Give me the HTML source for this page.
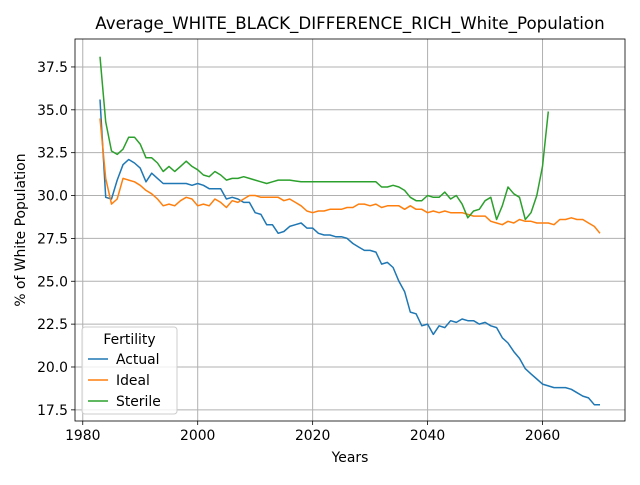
<!DOCTYPE html>
<html><head><meta charset="utf-8"><style>
body{margin:0;background:#fff;font-family:"Liberation Sans","DejaVu Sans",sans-serif}
svg text{font-family:"DejaVu Sans","Liberation Sans",sans-serif;fill:#000}
</style></head><body>
<svg id="chart" width="640" height="480" viewBox="0 0 640 480"></svg>
<script>
const years0 = 1983;
const actual = [35.6,29.9,29.8,30.9,31.8,32.1,31.9,31.6,30.8,31.3,31.0,30.7,30.7,30.7,30.7,30.7,30.6,30.7,30.6,30.4,30.4,30.4,29.8,29.9,29.8,29.6,29.6,29.0,28.9,28.3,28.3,27.8,27.9,28.2,28.3,28.4,28.1,28.1,27.8,27.7,27.7,27.6,27.6,27.5,27.2,27.0,26.8,26.8,26.7,26.0,26.1,25.8,25.0,24.4,23.2,23.1,22.4,22.5,21.9,22.4,22.3,22.7,22.6,22.8,22.7,22.7,22.5,22.6,22.4,22.3,21.7,21.4,20.9,20.5,19.9,19.6,19.3,19.0,18.9,18.8,18.8,18.8,18.7,18.5,18.3,18.2,17.8,17.8];
const ideal = [34.5,31.0,29.5,29.8,31.0,30.9,30.8,30.6,30.3,30.1,29.8,29.4,29.5,29.4,29.7,29.9,29.8,29.4,29.5,29.4,29.8,29.6,29.3,29.7,29.6,29.8,30.0,30.0,29.9,29.9,29.9,29.9,29.7,29.8,29.6,29.4,29.1,29.0,29.1,29.1,29.2,29.2,29.2,29.3,29.3,29.5,29.5,29.4,29.5,29.3,29.4,29.4,29.4,29.2,29.4,29.2,29.2,29.0,29.1,29.0,29.1,29.0,29.0,29.0,28.9,28.8,28.8,28.8,28.5,28.4,28.3,28.5,28.4,28.6,28.5,28.5,28.4,28.4,28.4,28.3,28.6,28.6,28.7,28.6,28.6,28.4,28.2,27.8];
const sterile = [38.1,34.3,32.6,32.4,32.7,33.4,33.4,33.0,32.2,32.2,31.9,31.4,31.7,31.4,31.7,32.0,31.7,31.5,31.2,31.1,31.4,31.2,30.9,31.0,31.0,31.1,31.0,30.9,30.8,30.7,30.8,30.9,30.9,30.9,30.85,30.8,30.8,30.8,30.8,30.8,30.8,30.8,30.8,30.8,30.8,30.8,30.8,30.8,30.8,30.5,30.5,30.6,30.5,30.3,29.9,29.7,29.7,30.0,29.9,29.9,30.2,29.8,30.0,29.5,28.7,29.1,29.2,29.7,29.9,28.6,29.4,30.5,30.1,29.9,28.6,29.0,30.0,31.7,34.9];
const seriesNames = ["Actual","Ideal","Sterile"];
const xTicks = [1980,2000,2020,2040,2060];
const yTicks = [17.5,20.0,22.5,25.0,27.5,30.0,32.5,35.0,37.5];

const NS="http://www.w3.org/2000/svg";
const svg=document.getElementById('chart');
const L=75,R=625,T=39,B=421;
const xmin=1978.65,xmax=2074.35,ymin=16.85,ymax=39.13;
const X=v=>L+(v-xmin)/(xmax-xmin)*(R-L);
const Y=v=>B-(v-ymin)/(ymax-ymin)*(B-T);
function mk(tag,attrs,parent){const e=document.createElementNS(NS,tag);for(const k in attrs)e.setAttribute(k,attrs[k]);(parent||svg).appendChild(e);return e;}

const grid=mk('g',{});


xTicks.forEach(t=>{
  const l=mk('line',{x1:X(t),x2:X(t),y1:T,y2:B,stroke:'#b0b0b0','stroke-width':1},grid);
  
  
  const tk=mk('line',{x1:X(t),x2:X(t),y1:B,y2:B+4,stroke:'#000','stroke-width':0.8});
  
  
  const tx=mk('text',{x:X(t),y:B+19,'text-anchor':'middle','font-size':13.9});
  tx.textContent=t;
  
  
});
yTicks.forEach(t=>{
  const l=mk('line',{x1:L,x2:R,y1:Y(t),y2:Y(t),stroke:'#b0b0b0','stroke-width':1},grid);
  
  
  const tk=mk('line',{x1:L-4,x2:L,y1:Y(t),y2:Y(t),stroke:'#000','stroke-width':0.8});
  
  
  const tx=mk('text',{x:L-7,y:Y(t)+5,'text-anchor':'end','font-size':13.9});
  tx.textContent=t.toFixed(1);
  
  
});

const colors=['#1f77b4','#ff7f0e','#2ca02c'];
[actual,ideal,sterile].forEach((arr,i)=>{
  const pts=arr.map((v,j)=>X(years0+j).toFixed(1)+','+Y(v).toFixed(1)).join(' ');
  const p=mk('polyline',{points:pts,fill:'none',stroke:colors[i],'stroke-width':1.5,'stroke-linejoin':'round'});
  
  
});

const frame=mk('rect',{x:L,y:T,width:R-L,height:B-T,fill:'none',stroke:'#000','stroke-width':0.8});



const title=mk('text',{x:(L+R)/2,y:29,'text-anchor':'middle','font-size':16.7});
title.textContent='Average_WHITE_BLACK_DIFFERENCE_RICH_White_Population';


const xl=mk('text',{x:(L+R)/2,y:462,'text-anchor':'middle','font-size':13.9});
xl.textContent='Years';


const yl=mk('text',{x:0,y:0,'text-anchor':'middle','font-size':13.9,transform:'translate(25,'+((T+B)/2)+') rotate(-90)'});
yl.textContent='% of White Population';



const lg=mk('g',{});


mk('rect',{x:82,y:327,width:95,height:87,rx:3,fill:'#fff','fill-opacity':0.8,stroke:'#ccc','stroke-width':1},lg);
const lt=mk('text',{x:129.5,y:344,'text-anchor':'middle','font-size':13.9},lg);
lt.textContent='Fertility';


seriesNames.forEach((n,i)=>{
  const y=359+i*21;
  const e=mk('g',{},lg);
  
  
  mk('line',{x1:88,x2:108,y1:y,y2:y,stroke:colors[i],'stroke-width':1.5},e);
  const t=mk('text',{x:116,y:y+5,'font-size':13.9},e);
  t.textContent=n;
});
</script>
</body></html>
